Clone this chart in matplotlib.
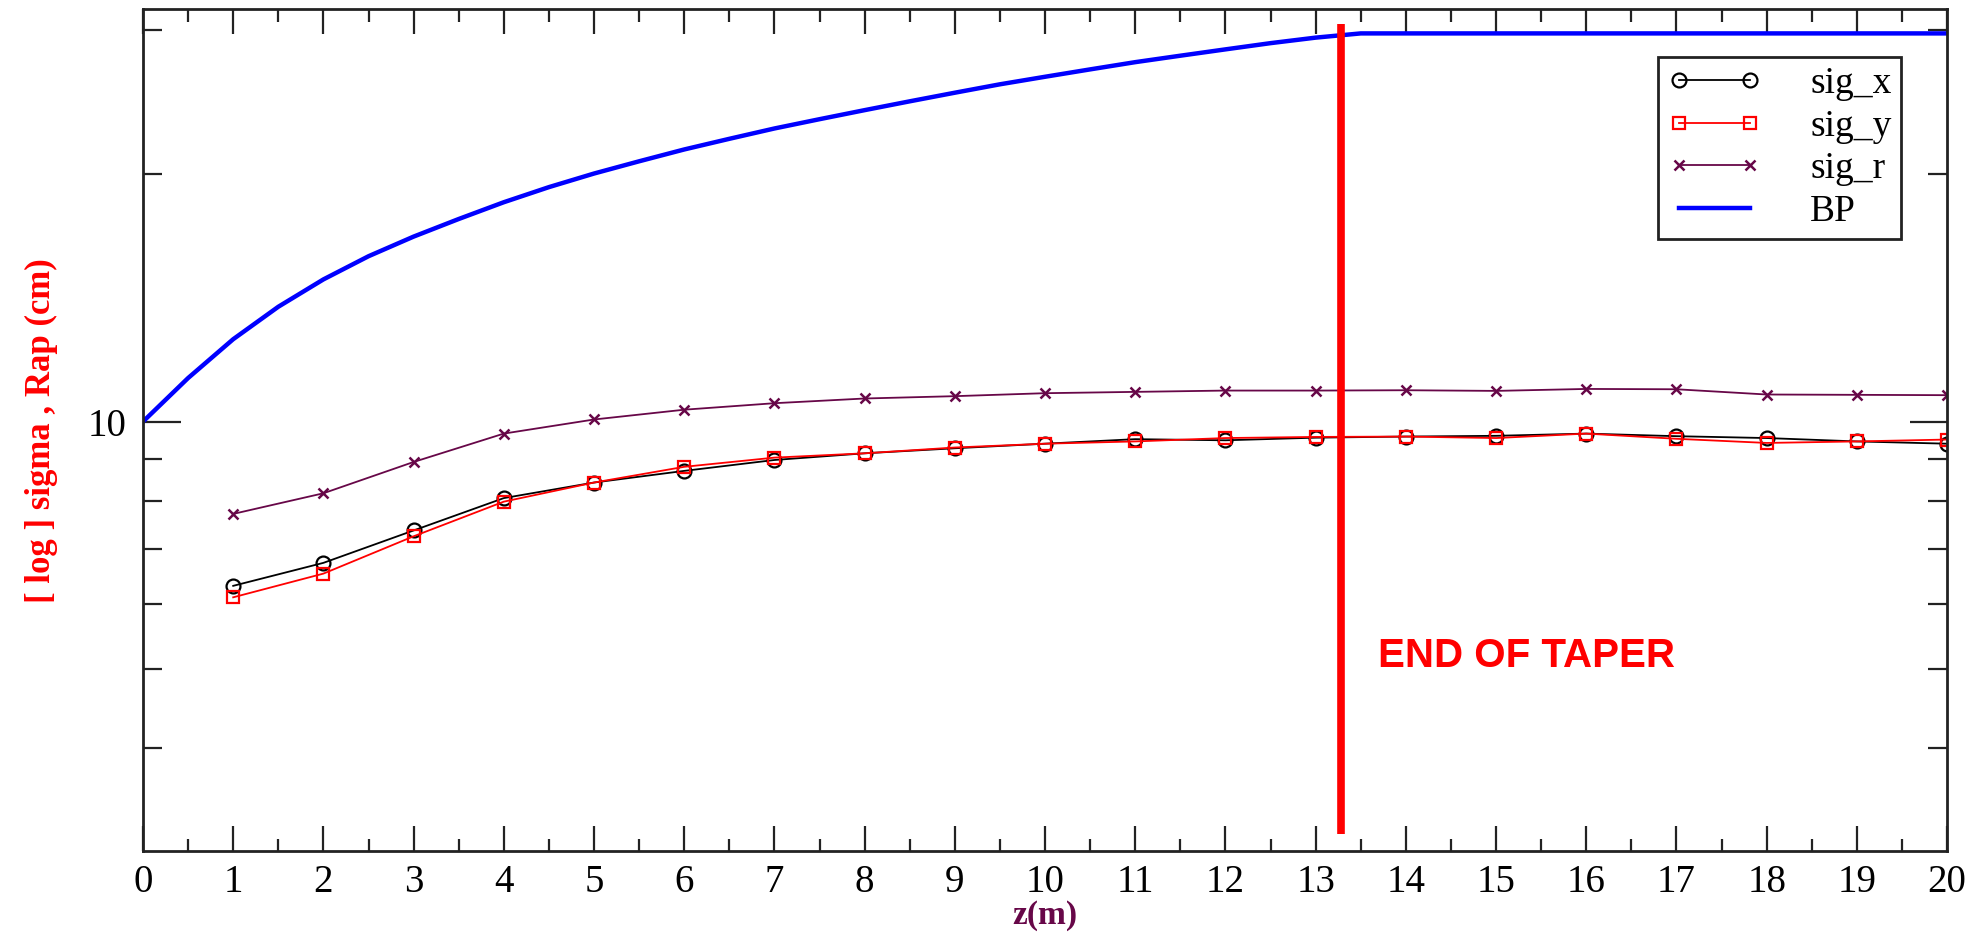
import numpy as np
import matplotlib
matplotlib.use("Agg")
import matplotlib.pyplot as plt
from matplotlib.ticker import FixedLocator, FixedFormatter, NullFormatter

# data
z_pts = [1, 2, 3, 4, 5, 6, 7, 8, 9, 10, 11, 12, 13, 14, 15, 16, 17, 18, 19, 20]
sig_x = [6.31, 6.73, 7.37, 8.07, 8.43, 8.71, 8.98, 9.15, 9.28, 9.40,
         9.52, 9.49, 9.56, 9.59, 9.61, 9.67, 9.60, 9.55, 9.46, 9.40]
sig_y = [6.11, 6.53, 7.25, 7.99, 8.43, 8.81, 9.04, 9.15, 9.30, 9.40,
         9.46, 9.55, 9.58, 9.59, 9.55, 9.67, 9.53, 9.42, 9.46, 9.51]
sig_r = [7.72, 8.18, 8.93, 9.67, 10.06, 10.34, 10.53, 10.67, 10.74, 10.83,
         10.87, 10.91, 10.91, 10.92, 10.90, 10.96, 10.95, 10.79, 10.78, 10.77]

z_bp = [0, 0.5, 1, 1.5, 2, 2.5, 3, 3.5, 4, 4.5, 5, 5.5, 6, 6.5, 7, 7.5, 8,
        8.5, 9, 9.5, 10, 10.5, 11, 11.5, 12, 12.5, 13, 13.5, 20]
bp = [10, 11.3, 12.6, 13.8, 14.9, 15.9, 16.8, 17.65, 18.5, 19.3, 20.05, 20.75,
      21.45, 22.1, 22.75, 23.35, 23.95, 24.55, 25.15, 25.75, 26.3, 26.85, 27.4,
      27.9, 28.4, 28.9, 29.35, 29.7, 29.7]

taper_z = 13.28
y_major = [10]
y_minor = [4, 5, 6, 7, 8, 9, 20, 30]

serif = "Liberation Serif"
purple = "#670748"

fig = plt.figure(figsize=(19.86, 9.32), dpi=100)
ax = fig.add_axes([0.072, 0.0869, 0.9084, 0.9034])

ax.plot(z_pts, sig_x, color="black", lw=1.3, marker="o", ms=10, mfc="none",
        mec="black", mew=1.6, label="sig_x")
ax.plot(z_pts, sig_y, color="red", lw=1.3, marker="s", ms=8, mfc="none",
        mec="red", mew=1.6, label="sig_y")
ax.plot(z_pts, sig_r, color=purple, lw=1.3, marker="x", ms=7, mew=1.8,
        label="sig_r")
ax.plot(z_bp, bp, color="#0000ff", lw=3.2, label="BP")

# end of taper marker
ax.plot([taper_z, taper_z], [3.15, 30.5], color="red", lw=5.5, zorder=5,
        solid_capstyle="butt")
ax.text(13.69, 5.19, "END OF TAPER", color="red", fontsize=29,
        fontweight="bold", family="Liberation Sans", va="center", ha="left")

ax.set_yscale("log")
ax.set_xlim(0, 20)
ax.set_ylim(3, 31.8)

ax.set_xticks(np.arange(0, 21, 1))
ax.set_xticks(np.arange(0.5, 20, 1), minor=True)
ax.yaxis.set_major_locator(FixedLocator(y_major))
ax.yaxis.set_major_formatter(FixedFormatter(["10"]))
ax.yaxis.set_minor_locator(FixedLocator(y_minor))
ax.yaxis.set_minor_formatter(NullFormatter())

ax.tick_params(axis="both", which="both", direction="in", top=True,
               right=True, width=1.6, color="#222222")
ax.tick_params(axis="x", which="major", length=18, pad=9)
ax.tick_params(axis="x", which="minor", length=9)
ax.tick_params(axis="y", which="major", length=27, pad=12)
ax.tick_params(axis="y", which="minor", length=14)
for lab in ax.get_xticklabels() + ax.get_yticklabels():
    lab.set_family(serif)
    lab.set_fontsize(28)

for sp in ax.spines.values():
    sp.set_linewidth(2.0)
    sp.set_color("#222222")

ax.set_xlabel("z(m)", family=serif, fontweight="bold", fontsize=24,
              color=purple, va="center")
ax.xaxis.set_label_coords(0.5, -0.0765)

fig.text(0.021, 0.5376, "[ log ] sigma , Rap (cm)", rotation=90,
         family=serif, fontweight="bold", fontsize=25, color="red",
         ha="center", va="center")

leg = ax.legend(loc="upper right", bbox_to_anchor=(0.9745, 0.943),
                borderaxespad=0, fancybox=False, framealpha=1,
                edgecolor="#222222", prop={"family": serif, "size": 27},
                handlelength=2.5, labelspacing=0.22, handletextpad=1.3,
                borderpad=0.25, numpoints=2)
leg.get_frame().set_linewidth(2.0)

fig.savefig("out.png", dpi=100)
